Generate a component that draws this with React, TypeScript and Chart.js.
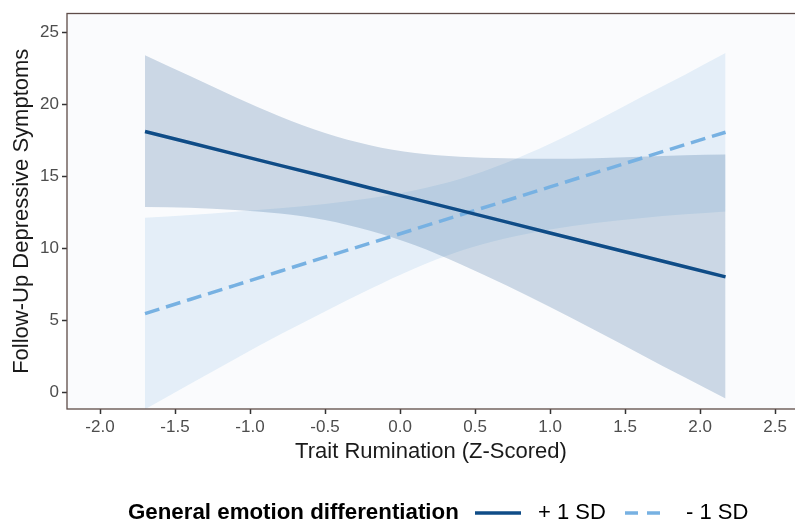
import React, { useEffect, useRef } from "react";
import { Chart, registerables } from "chart.js";

Chart.register(...registerables);

const FONT = '"Liberation Sans", Arial, Helvetica, sans-serif';

const xValues = [-1.7, -1.4, -1.1, -0.8, -0.5, -0.2, 0.1, 0.4, 0.7, 1.0, 1.3, 1.6, 1.9, 2.17];
const plusMean = [18.1, 17.32, 16.53, 15.75, 14.97, 14.18, 13.4, 12.62, 11.84, 11.05, 10.27, 9.49, 8.7, 8.0];
const plusUpper = [23.4, 21.95, 20.5, 19.15, 18.0, 17.15, 16.6, 16.35, 16.25, 16.2, 16.25, 16.35, 16.45, 16.5];
const plusLower = [12.85, 12.8, 12.65, 12.4, 11.95, 11.2, 10.2, 8.9, 7.45, 5.9, 4.3, 2.65, 1.0, -0.45];
const minusMean = [5.45, 6.43, 7.41, 8.39, 9.37, 10.34, 11.32, 12.3, 13.27, 14.25, 15.23, 16.21, 17.19, 18.05];
const minusUpper = [12.1, 12.3, 12.52, 12.77, 13.07, 13.46, 14.02, 14.8, 15.9, 17.25, 18.8, 20.45, 22.05, 23.55];
const minusLower = [-1.2, 0.56, 2.3, 4.0, 5.6, 7.15, 8.6, 9.8, 10.67, 11.3, 11.75, 12.08, 12.35, 12.55];

const xTicks = [-2.0, -1.5, -1.0, -0.5, 0.0, 0.5, 1.0, 1.5, 2.0, 2.5];
const yTicks = [0, 5, 10, 15, 20, 25];

const xTitle = "Trait Rumination (Z-Scored)";
const yTitle = "Follow-Up Depressive Symptoms";
const legendTitle = "General emotion differentiation";
const seriesNames = ["+ 1 SD", "- 1 SD"];

const PLUS_COLOR = "#0f4c87";
const MINUS_COLOR = "#77b1e2";
const PLUS_FILL = "rgba(15, 76, 135, 0.2)";
const MINUS_FILL = "rgba(119, 177, 226, 0.17)";
const DASH = [15, 7];

const toPoints = (ys: number[]) => xValues.map((x, i) => ({ x, y: ys[i] }));

const panelPlugin = {
  id: "panelBg",
  beforeDraw(chart: any) {
    const { ctx, chartArea } = chart;
    ctx.save();
    ctx.fillStyle = "#fafbfd";
    ctx.fillRect(chartArea.left, chartArea.top, chartArea.right - chartArea.left, chartArea.bottom - chartArea.top);
    ctx.restore();
  },
  afterDatasetsDraw(chart: any) {
    const { ctx, chartArea } = chart;
    ctx.save();
    ctx.strokeStyle = "#5e4c48";
    ctx.lineWidth = 1.3;
    ctx.strokeRect(chartArea.left, chartArea.top, chartArea.right - chartArea.left + 2, chartArea.bottom - chartArea.top);
    ctx.restore();
  },
};

const legendPlugin = {
  id: "customLegend",
  afterDraw(chart: any) {
    const ctx = chart.ctx;
    const y = 513;
    ctx.save();
    ctx.textBaseline = "middle";
    ctx.textAlign = "left";
    ctx.fillStyle = "#000000";
    ctx.font = `bold 22.3px ${FONT}`;
    ctx.fillText(legendTitle, 128, y);
    ctx.lineWidth = 3.5;
    ctx.strokeStyle = PLUS_COLOR;
    ctx.setLineDash([]);
    ctx.beginPath();
    ctx.moveTo(475, y);
    ctx.lineTo(521, y);
    ctx.stroke();
    ctx.font = `22px ${FONT}`;
    ctx.fillText(seriesNames[0], 538, y);
    ctx.strokeStyle = MINUS_COLOR;
    ctx.setLineDash([13, 9]);
    ctx.beginPath();
    ctx.moveTo(625, y);
    ctx.lineTo(669, y);
    ctx.stroke();
    ctx.setLineDash([]);
    ctx.fillText(seriesNames[1], 686, y);
    ctx.restore();
  },
};

const bandDefaults = {
  borderWidth: 0,
  borderColor: "rgba(0,0,0,0)",
  pointRadius: 0,
  cubicInterpolationMode: "monotone" as const,
};

export default function App() {
  const canvasRef = useRef<HTMLCanvasElement | null>(null);

  useEffect(() => {
    if (!canvasRef.current) return;
    const chart = new Chart(canvasRef.current, {
      type: "line",
      data: {
        datasets: [
          {
            label: seriesNames[0],
            data: toPoints(plusMean),
            borderColor: PLUS_COLOR,
            borderWidth: 3.5,
            pointRadius: 0,
            fill: false,
          },
          {
            label: seriesNames[1],
            data: toPoints(minusMean),
            borderColor: MINUS_COLOR,
            borderWidth: 3.5,
            borderDash: DASH,
            pointRadius: 0,
            fill: false,
          },
          { label: "plus upper", data: toPoints(plusUpper), backgroundColor: PLUS_FILL, fill: "+1", ...bandDefaults },
          { label: "plus lower", data: toPoints(plusLower), fill: false, ...bandDefaults },
          { label: "minus upper", data: toPoints(minusUpper), backgroundColor: MINUS_FILL, fill: "+1", ...bandDefaults },
          { label: "minus lower", data: toPoints(minusLower), fill: false, ...bandDefaults },
        ],
      },
      options: {
        responsive: false,
        animation: false,
        devicePixelRatio: 1,
        layout: { padding: { left: 5, top: 13.5, right: 0, bottom: 56 } },
        plugins: {
          legend: { display: false },
          tooltip: { enabled: false },
        },
        scales: {
          x: {
            type: "linear",
            min: -2.22,
            max: 2.633,
            border: { display: false },
            grid: { drawOnChartArea: false, drawTicks: true, tickLength: 5, tickWidth: 1.5, tickColor: "#333333" },
            ticks: {
              autoSkip: false,
              maxRotation: 0,
              padding: 3,
              color: "#4d4d4d",
              font: { family: FONT, size: 17 },
              callback: (v: any) => Number(v).toFixed(1),
            },
            afterBuildTicks: (s: any) => {
              s.ticks = xTicks.map((v) => ({ value: v }));
            },
            afterFit: (s: any) => {
              s.height = 60;
            },
            title: {
              display: true,
              text: xTitle,
              color: "#1a1a1a",
              font: { family: FONT, size: 22 },
              padding: { top: 4, bottom: 4 },
            },
          },
          y: {
            type: "linear",
            min: -1.18,
            max: 26.3,
            border: { display: false },
            grid: { drawOnChartArea: false, drawTicks: true, tickLength: 5, tickWidth: 1.5, tickColor: "#333333" },
            ticks: {
              autoSkip: false,
              padding: 3,
              color: "#4d4d4d",
              font: { family: FONT, size: 17 },
              callback: (v: any) => String(v),
            },
            afterBuildTicks: (s: any) => {
              s.ticks = yTicks.map((v) => ({ value: v }));
            },
            afterFit: (s: any) => {
              s.width = 62;
            },
            title: {
              display: true,
              text: yTitle,
              color: "#1a1a1a",
              font: { family: FONT, size: 22 },
              padding: { top: 4, bottom: 4 },
            },
          },
        },
      },
      plugins: [panelPlugin, legendPlugin],
    });
    return () => chart.destroy();
  }, []);

  return (
    <div style={{ position: "absolute", left: 0, top: 0, width: 795, height: 525, background: "#ffffff" }}>
      <canvas ref={canvasRef} width={795} height={525} style={{ display: "block" }} />
    </div>
  );
}
